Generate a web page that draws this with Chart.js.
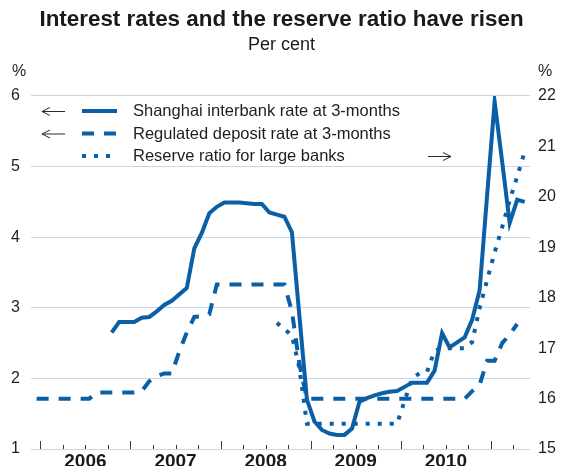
<!DOCTYPE html>
<html>
<head>
<meta charset="utf-8">
<script src="https://cdn.jsdelivr.net/npm/chart.js@4.4.1/dist/chart.umd.min.js"></script>
<style>
html,body{margin:0;padding:0;overflow:hidden;background:#ffffff;}
canvas{display:block;}
</style>
</head>
<body>
<canvas id="c" width="563" height="480" style="width:563px;height:480px"></canvas>
<script>
// ---------- data (monthly, Dec 2005 .. May 2011) ----------
const firstMonth = {year: 2005, month: 12};

const shanghaiRate = [
  null,null,null,null,null,null,null,null,null,null,
  2.65,2.80,2.80,2.80,2.86,2.87,2.95,3.04,3.10,3.19,
  3.28,3.84,4.06,4.34,4.43,4.49,4.49,4.49,4.48,4.47,
  4.47,4.35,4.32,4.29,4.07,2.88,1.70,1.39,1.27,1.22,
  1.20,1.20,1.29,1.67,1.72,1.76,1.79,1.81,1.82,1.88,
  1.94,1.94,1.94,2.11,2.64,2.44,2.51,2.58,2.83,3.25,
  4.60,5.92,5.07,4.20,4.53,4.50
];
const depositRate = [
  1.71,1.71,1.71,1.71,1.71,1.71,1.71,1.71,
  1.80,1.80,1.80,1.80,1.80,1.80,
  1.82,1.96,2.03,2.07,2.07,2.38,2.65,2.87,2.88,2.91,
  3.33,3.33,3.33,3.33,3.33,3.33,3.33,3.33,3.33,3.33,
  2.95,2.20,
  1.71,1.71,1.71,1.71,1.71,1.71,1.71,1.71,1.71,1.71,1.71,
  1.71,1.71,1.71,1.71,1.71,1.71,1.71,1.71,1.71,1.71,1.71,
  1.82,1.91,2.25,2.25,2.50,2.62,2.77,null
];
const reserveRatio = [
  null,null,null,null,null,null,null,null,null,null,
  null,null,null,null,null,null,null,null,null,null,
  null,null,null,null,null,null,null,null,null,null,
  null,null,
  17.5,17.38,17.25,16.6,
  15.5,15.5,15.5,15.5,15.5,15.5,15.5,15.5,15.5,15.5,15.5,15.5,15.5,
  15.95,16.4,16.5,16.53,16.95,
  17.0,17.0,17.0,17.0,
  17.12,17.8,18.35,18.9,19.4,19.93,20.4,20.9
];

const yearLabels = ['2006','2007','2008','2009','2010'];
const leftTicks = [1,2,3,4,5,6];
const rightTicks = [15,16,17,18,19,20,21,22];

const seriesNames = [
  'Shanghai interbank rate at 3-months',
  'Regulated deposit rate at 3-months',
  'Reserve ratio for large banks'
];

// ---------- helpers ----------
// each monthly observation sits at mid-month on a decimal-year axis
function monthPosition(i){
  const m = firstMonth.month - 1 + i;
  return firstMonth.year + (m + 0.5) / 12;
}
function toPoints(arr){
  return arr.map((v,i)=>({x: monthPosition(i), y: v}));
}

const BLUE = '#0a5fa6';
const GRID = '#c9d5ec';
const TEXT = '#1e1e1e';
const FONT = "'Liberation Sans', Arial, Helvetica, sans-serif";
Chart.defaults.font.family = FONT;
Chart.defaults.color = TEXT;

const styles = [
  {dash: []},
  {dash: [12,10]},
  {dash: [4,8]}
];

// ---------- decorations: tick marks, units, legend ----------
const decor = {
  id: 'decor',
  afterDraw(chart){
    const {ctx, chartArea, scales} = chart;
    const xs = scales.x;
    ctx.save();
    // quarterly tick marks standing on the axis line
    ctx.strokeStyle = '#3a3a3a';
    ctx.lineWidth = 1;
    const firstYear = parseInt(yearLabels[0],10);
    for (let q = 0; q <= 21; q++){
      const v = firstYear + q/4;
      const x = Math.round(xs.getPixelForValue(v)) + 0.5;
      const len = (q % 4 === 0) ? 8 : 4;
      ctx.beginPath();
      ctx.moveTo(x, chartArea.bottom);
      ctx.lineTo(x, chartArea.bottom - len);
      ctx.stroke();
    }
    // unit labels
    ctx.fillStyle = TEXT;
    ctx.font = "16px " + FONT;
    ctx.textBaseline = 'middle';
    ctx.textAlign = 'center';
    ctx.fillText('%', 19, 72);
    ctx.fillText('%', 545, 72);

    // legend
    const rows = [111, 133.5, 156];
    const sx0 = 82, sx1 = 117;
    ctx.textAlign = 'left';
    ctx.font = "16.5px " + FONT;
    rows.forEach((y, i) => {
      ctx.strokeStyle = BLUE;
      ctx.lineWidth = 4;
      ctx.setLineDash(styles[i].dash);
      ctx.beginPath();
      ctx.moveTo(sx0, y);
      ctx.lineTo(i === 2 ? 112 : sx1, y);
      ctx.stroke();
      ctx.setLineDash([]);
      ctx.fillStyle = TEXT;
      ctx.fillText(seriesNames[i], 133, y + 0.5);
    });
    // arrows pointing to the relevant axis
    ctx.strokeStyle = '#2a2a2a';
    ctx.lineWidth = 1;
    function arrow(x0, x1, y, left){
      ctx.beginPath();
      ctx.moveTo(x0, y + 0.5); ctx.lineTo(x1, y + 0.5);
      const tip = left ? x0 : x1;
      const back = left ? tip + 8 : tip - 8;
      ctx.moveTo(back, y - 3.5); ctx.lineTo(tip, y + 0.5); ctx.lineTo(back, y + 4.5);
      ctx.stroke();
    }
    arrow(42, 65, rows[0], true);
    arrow(42, 65, rows[1], true);
    arrow(428, 451, rows[2], false);
    ctx.restore();
  }
};

const ds = (i, data, axis) => ({
  label: seriesNames[i],
  data: toPoints(data),
  yAxisID: axis,
  borderColor: BLUE,
  backgroundColor: BLUE,
  borderWidth: 4,
  borderDash: styles[i].dash,
  pointRadius: 0,
  pointHoverRadius: 0,
  tension: 0,
  fill: false,
  spanGaps: false
});

new Chart(document.getElementById('c'), {
  type: 'line',
  data: {
    datasets: [
      ds(0, shanghaiRate, 'y'),
      ds(1, depositRate, 'y'),
      ds(2, reserveRatio, 'y2')
    ]
  },
  options: {
    responsive: false,
    animation: false,
    events: [],
    layout: {padding: {top: 0, left: 0, right: 0, bottom: 0}},
    plugins: {
      legend: {display: false},
      tooltip: {enabled: false},
      title: {
        display: true,
        text: 'Interest rates and the reserve ratio have risen',
        font: {size: 22.4, weight: 'bold', family: FONT},
        color: '#1a1a1a',
        padding: {top: 6.6, bottom: 0}
      },
      subtitle: {
        display: true,
        text: 'Per cent',
        font: {size: 18, weight: 'normal', family: FONT},
        color: '#1a1a1a',
        padding: {top: 0.8, bottom: 40.1}
      }
    },
    scales: {
      x: {
        type: 'linear',
        min: 2005.896,
        max: 2011.434,
        grid: {display: false, drawTicks: false},
        border: {display: false},
        afterBuildTicks: (s) => {
          s.ticks = yearLabels.map(y => ({value: parseInt(y,10) + 0.5}));
        },
        ticks: {
          autoSkip: false,
          maxRotation: 0,
          padding: 1,
          color: '#1a1a1a',
          font: {size: 19, weight: 'bold', family: FONT},
          callback: (v) => String(Math.floor(v))
        },
        afterFit: (s) => { s.height = 31; }
      },
      y: {
        position: 'left',
        min: leftTicks[0],
        max: leftTicks[leftTicks.length-1],
        afterBuildTicks: (s) => { s.ticks = leftTicks.map(v => ({value: v})); },
        grid: {color: GRID, lineWidth: 1, drawTicks: false},
        border: {display: false},
        ticks: {padding: 11, color: TEXT, font: {size: 16, family: FONT}},
        afterFit: (s) => { s.width = 31; }
      },
      y2: {
        position: 'right',
        min: rightTicks[0],
        max: rightTicks[rightTicks.length-1],
        afterBuildTicks: (s) => { s.ticks = rightTicks.map(v => ({value: v})); },
        grid: {display: false, drawOnChartArea: false, drawTicks: false},
        border: {display: false},
        ticks: {padding: 8, color: TEXT, font: {size: 16, family: FONT}},
        afterFit: (s) => { s.width = 33; }
      }
    }
  },
  plugins: [decor]
});
</script>
</body>
</html>
